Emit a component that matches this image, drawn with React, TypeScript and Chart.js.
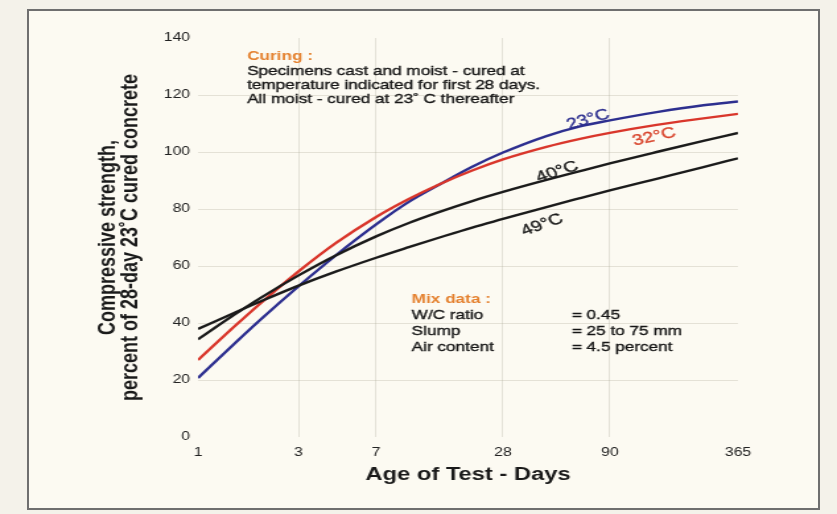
import React, { useEffect, useRef } from 'react';
import { Chart, registerables } from 'chart.js';

Chart.register(...registerables);

// ---- data ----
const days = [1, 1.5, 2, 3, 4.5, 7, 10, 14, 20, 28, 45, 65, 90, 150, 250, 365];
const strength23C = [20.7, 33.0, 41.5, 52.9, 63.7, 74.6, 82.5, 88.6, 94.8, 99.8, 105.6, 109.0, 111.1, 114.0, 116.4, 117.7];
const strength32C = [27, 39, 47.2, 58.1, 68, 77.2, 83.5, 88.7, 93.5, 97.4, 101.8, 104.6, 106.7, 109.5, 111.8, 113.4];
const strength40C = [34.3, 43.1, 49.0, 56.7, 63.7, 70.4, 75.1, 79.0, 82.8, 86.0, 90.2, 93.3, 96.0, 100.0, 103.9, 106.7];
const strength49C = [37.9, 43.7, 47.7, 53.1, 58.0, 62.9, 66.6, 70.0, 73.5, 76.5, 80.7, 83.8, 86.5, 90.6, 94.7, 97.8];
const xTickDays = [1, 3, 7, 28, 90, 365];
const yTickValues = [0, 20, 40, 60, 80, 100, 120, 140];
const seriesNames = ['23°C', '32°C', '40°C', '49°C'];

const xTitle = 'Age of Test - Days';
const yTitle = ['Compressive strength,', 'percent of 28-day 23˚C cured concrete'];
const curingHeading = 'Curing :';
const curingLines = [
  'Specimens cast and moist - cured at',
  'temperature indicated for first 28 days.',
  'All moist - cured at 23˚ C thereafter',
];
const mixHeading = 'Mix data :';
const mixKeys = ['W/C ratio', 'Slump', 'Air content'];
const mixValues = ['= 0.45', '= 25 to 75 mm', '= 4.5 percent'];

// ---- styling / layout ----
const FONT = '"Liberation Sans", Arial, Helvetica, sans-serif';
const BLUE = '#2d2f8f';
const RED = '#d9362b';
const BLACK = '#1b1b1b';
const ORANGE = '#e4812f';
const TEXT = '#161616';
const CANVAS_W = 634; // drawn narrower, then stretched horizontally like the reference
const CANVAS_H = 514;

// annotation anchors in data units (day, value)
const curveLabelAnchors = [
  { day: 71, value: 111.4, angle: -20, color: BLUE },
  { day: 146, value: 105.3, angle: -16, color: '#d8452d' },
  { day: 50.6, value: 93, angle: -23, color: BLACK },
  { day: 42.9, value: 74.4, angle: -25, color: BLACK },
];
const curingAnchor = { day: 1.71, values: [133.6, 128.3, 123.3, 118.3] };
const mixAnchor = { day: 10.33, valueDay: 59.4, values: [48.4, 42.8, 37.2, 31.6] };

function heavyText(ctx: CanvasRenderingContext2D, t: string, x: number, y: number, color: string) {
  ctx.fillStyle = color;
  ctx.strokeStyle = color;
  ctx.lineWidth = 0.35;
  ctx.fillText(t, x, y);
  ctx.strokeText(t, x, y);
}

const annotationPlugin = {
  id: 'annotations',
  afterDraw(chart: any) {
    const { ctx } = chart;
    const xs = chart.scales.x;
    const ys = chart.scales.y;
    ctx.save();
    ctx.textBaseline = 'middle';
    ctx.textAlign = 'left';

    // curing note
    let x = xs.getPixelForValue(curingAnchor.day);
    ctx.font = `bold 13px ${FONT}`;
    ctx.fillStyle = ORANGE;
    ctx.fillText(curingHeading, x, ys.getPixelForValue(curingAnchor.values[0]));
    ctx.font = `13px ${FONT}`;
    curingLines.forEach((t, i) => heavyText(ctx, t, x, ys.getPixelForValue(curingAnchor.values[i + 1]), TEXT));

    // mix data
    x = xs.getPixelForValue(mixAnchor.day);
    const x2 = xs.getPixelForValue(mixAnchor.valueDay);
    ctx.font = `bold 13px ${FONT}`;
    ctx.fillStyle = ORANGE;
    ctx.fillText(mixHeading, x, ys.getPixelForValue(mixAnchor.values[0]));
    ctx.font = `13px ${FONT}`;
    mixKeys.forEach((t, i) => {
      const y = ys.getPixelForValue(mixAnchor.values[i + 1]);
      heavyText(ctx, t, x, y, TEXT);
      heavyText(ctx, mixValues[i], x2, y, TEXT);
    });

    // curve labels
    ctx.textAlign = 'center';
    ctx.font = `15px ${FONT}`;
    curveLabelAnchors.forEach((a, i) => {
      ctx.save();
      ctx.translate(xs.getPixelForValue(a.day), ys.getPixelForValue(a.value));
      ctx.rotate((a.angle * Math.PI) / 180);
      heavyText(ctx, seriesNames[i], 0, 0, a.color);
      ctx.restore();
    });
    ctx.restore();
  },
};

const gridColor = 'rgba(165,160,145,0.28)';

export default function App() {
  const ref = useRef<HTMLCanvasElement | null>(null);

  useEffect(() => {
    if (!ref.current) return;
    const toPoints = (vals: number[]) => days.map((d, i) => ({ x: d, y: vals[i] }));
    const lineDs = (vals: number[], color: string, label: string) => ({
      label,
      data: toPoints(vals),
      borderColor: color,
      borderWidth: 2.4,
      pointRadius: 0,
      fill: false,
      cubicInterpolationMode: 'monotone' as const,
    });
    const chart = new Chart(ref.current, {
      type: 'line',
      data: {
        datasets: [
          lineDs(strength49C, BLACK, seriesNames[3]),
          lineDs(strength40C, BLACK, seriesNames[2]),
          lineDs(strength32C, RED, seriesNames[1]),
          lineDs(strength23C, BLUE, seriesNames[0]),
        ],
      },
      options: {
        animation: false,
        responsive: false,
        devicePixelRatio: 1,
        layout: { padding: { left: 0, right: 75, top: 38, bottom: 17 } },
        plugins: { legend: { display: false }, tooltip: { enabled: false } },
        scales: {
          x: {
            type: 'logarithmic',
            min: 1,
            max: 365,
            afterBuildTicks: (s: any) => {
              s.ticks = xTickDays.map((v) => ({ value: v }));
            },
            afterFit: (s: any) => {
              s.height = 60;
            },
            ticks: {
              autoSkip: false,
              maxRotation: 0,
              padding: 8,
              color: '#222',
              font: { family: FONT, size: 12 },
              callback: (v: any) => String(v),
            },
            grid: {
              drawTicks: false,
              color: (c: any) => (c.tick && (c.tick.value === 1 || c.tick.value === 365) ? 'rgba(0,0,0,0)' : gridColor),
            },
            border: { display: false },
            title: {
              display: true,
              text: xTitle,
              color: '#1a1a1a',
              font: { family: FONT, size: 18, weight: 'bold', lineHeight: 1.2 },
              padding: { top: 0, bottom: 11 },
            },
          },
          y: {
            min: 0,
            max: 140,
            afterBuildTicks: (s: any) => {
              s.ticks = yTickValues.map((v) => ({ value: v }));
            },
            afterFit: (s: any) => {
              s.width = 150;
            },
            ticks: {
              padding: 6,
              color: '#222',
              font: { family: FONT, size: 12 },
            },
            grid: {
              drawTicks: false,
              color: (c: any) => (c.tick && (c.tick.value === 0 || c.tick.value === 140) ? 'rgba(0,0,0,0)' : gridColor),
            },
            border: { display: false },
            title: {
              display: true,
              text: yTitle,
              color: '#1a1a1a',
              font: { family: FONT, size: 18, weight: 'bold', lineHeight: 0.92 },
              padding: { top: 74, bottom: 0 },
            },
          },
        },
      } as any,
      plugins: [annotationPlugin],
    });
    return () => chart.destroy();
  }, []);

  return (
    <div style={{ position: 'absolute', left: 0, top: 0, width: 837, height: 514, background: '#f4f2ea', overflow: 'hidden' }}>
      <div
        style={{
          position: 'absolute',
          left: 27,
          top: 9,
          width: 793,
          height: 501,
          boxSizing: 'border-box',
          border: '2px solid #6f6f6f',
          background: '#fcfaf2',
        }}
      />
      <canvas
        ref={ref}
        width={CANVAS_W}
        height={CANVAS_H}
        style={{ position: 'absolute', left: 0, top: 0, width: '837px', height: '514px', display: 'block' }}
      />
    </div>
  );
}
